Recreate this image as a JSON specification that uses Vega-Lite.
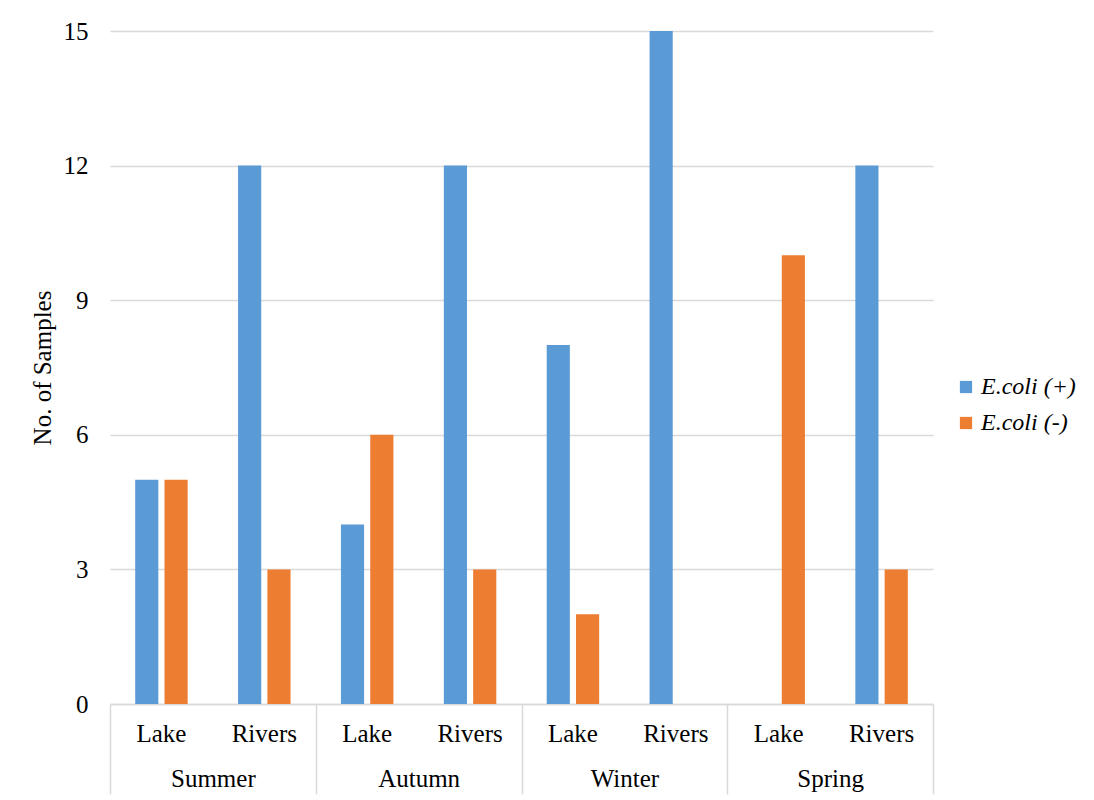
{
  "$schema": "https://vega.github.io/schema/vega-lite/v6.json",
  "width": 823,
  "height": 673,
  "autosize": {"type": "none"},
  "padding": {"left": 110, "top": 31, "right": 161, "bottom": 96},
  "background": "white",
  "config": {
    "font": "Liberation Serif",
    "view": {"stroke": null},
    "axis": {
      "labelFont": "Liberation Serif",
      "titleFont": "Liberation Serif",
      "labelColor": "#000000",
      "titleColor": "#000000",
      "labelFontSize": 25,
      "titleFontSize": 25,
      "titleFontWeight": "normal"
    }
  },
  "layer": [
    {
      "data": {
        "values": [
          {"key": "Summer|Lake", "series": "E.coli (+)", "count": 5},
          {"key": "Summer|Lake", "series": "E.coli (-)", "count": 5},
          {"key": "Summer|Rivers", "series": "E.coli (+)", "count": 12},
          {"key": "Summer|Rivers", "series": "E.coli (-)", "count": 3},
          {"key": "Autumn|Lake", "series": "E.coli (+)", "count": 4},
          {"key": "Autumn|Lake", "series": "E.coli (-)", "count": 6},
          {"key": "Autumn|Rivers", "series": "E.coli (+)", "count": 12},
          {"key": "Autumn|Rivers", "series": "E.coli (-)", "count": 3},
          {"key": "Winter|Lake", "series": "E.coli (+)", "count": 8},
          {"key": "Winter|Lake", "series": "E.coli (-)", "count": 2},
          {"key": "Winter|Rivers", "series": "E.coli (+)", "count": 15},
          {"key": "Winter|Rivers", "series": "E.coli (-)", "count": 0},
          {"key": "Spring|Lake", "series": "E.coli (+)", "count": 0},
          {"key": "Spring|Lake", "series": "E.coli (-)", "count": 10},
          {"key": "Spring|Rivers", "series": "E.coli (+)", "count": 12},
          {"key": "Spring|Rivers", "series": "E.coli (-)", "count": 3}
        ]
      },
      "mark": {"type": "bar"},
      "encoding": {
        "x": {
          "field": "key",
          "type": "nominal",
          "sort": null,
          "scale": {"paddingInner": 0.49, "paddingOuter": 0.245},
          "axis": {
            "title": null,
            "orient": "bottom",
            "labelAngle": 0,
            "labelExpr": "split(datum.label, '|')[1]",
            "ticks": false,
            "tickSize": 0,
            "labelPadding": 17,
            "domainColor": "#d9d9d9",
            "domainWidth": 1.5
          }
        },
        "xOffset": {
          "field": "series",
          "type": "nominal",
          "scale": {"paddingInner": 0.21, "paddingOuter": 0}
        },
        "y": {
          "field": "count",
          "type": "quantitative",
          "scale": {"domain": [0, 15], "nice": false},
          "axis": {
            "title": "No. of Samples",
            "values": [0, 3, 6, 9, 12, 15],
            "domain": false,
            "ticks": false,
            "tickSize": 0,
            "labelPadding": 22,
            "titlePadding": 8,
            "gridColor": "#d9d9d9",
            "gridWidth": 1.5
          }
        },
        "color": {
          "field": "series",
          "type": "nominal",
          "scale": {"domain": ["E.coli (+)", "E.coli (-)"], "range": ["#5b9bd5", "#ed7d31"]},
          "legend": {
            "title": null,
            "orient": "none",
            "legendX": 844,
            "legendY": 344,
            "symbolType": "square",
            "symbolSize": 150,
            "symbolStrokeWidth": 0,
            "labelFont": "Liberation Serif",
            "labelFontStyle": "italic",
            "labelFontSize": 24,
            "labelColor": "#000000",
            "rowPadding": 12,
            "labelOffset": 3
          }
        }
      }
    },
    {
      "data": {
        "values": [
          {"season": "Summer"},
          {"season": "Autumn"},
          {"season": "Winter"},
          {"season": "Spring"}
        ]
      },
      "mark": {"type": "point", "opacity": 0},
      "encoding": {
        "x": {
          "field": "season",
          "type": "nominal",
          "sort": null,
          "scale": {"paddingInner": 0, "paddingOuter": 0},
          "axis": {
            "title": null,
            "orient": "bottom",
            "labelAngle": 0,
            "domain": false,
            "ticks": true,
            "tickBand": "extent",
            "tickSize": 90,
            "tickColor": "#d9d9d9",
            "tickWidth": 1.5,
            "labelPadding": -28
          }
        }
      }
    }
  ],
  "resolve": {"scale": {"x": "independent"}, "axis": {"x": "independent"}}
}
